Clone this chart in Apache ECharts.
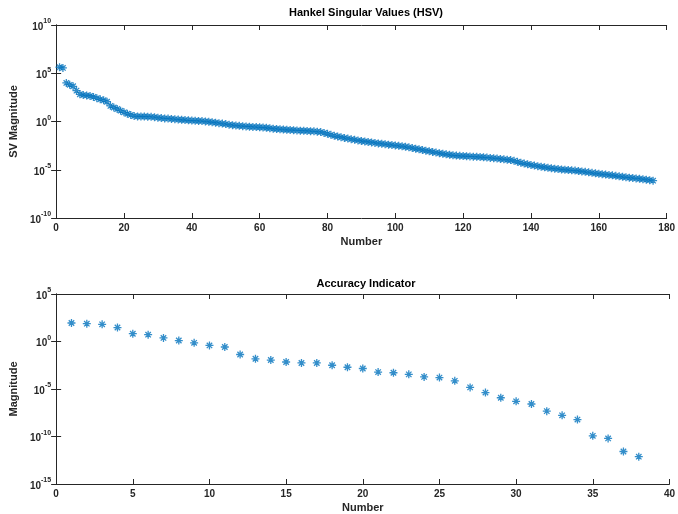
<!DOCTYPE html>
<html>
<head>
<meta charset="utf-8">
<script src="https://cdn.jsdelivr.net/npm/echarts@6/dist/echarts.min.js"></script>
<style>
  html, body { margin: 0; padding: 0; background: #fff; }
  #chart { width: 678px; height: 514px; }
</style>
</head>
<body>
<div id="chart"></div>
<script>
// log10 of each Hankel singular value (state 1..176)
const hsvLog10 = [
  5.62, 5.55, 4.00, 3.80, 3.65, 3.20, 2.82, 2.74, 2.70, 2.64,
  2.55, 2.42, 2.30, 2.20, 2.05, 1.62, 1.45, 1.30, 1.12, 0.95,
  0.80, 0.68, 0.56, 0.53, 0.52, 0.52, 0.50, 0.48, 0.45, 0.40,
  0.35, 0.32, 0.30, 0.27, 0.24, 0.20, 0.18, 0.15, 0.12, 0.10,
  0.08, 0.06, 0.04, 0.01, -0.03, -0.08, -0.12, -0.17, -0.22, -0.27,
  -0.33, -0.38, -0.42, -0.45, -0.48, -0.51, -0.54, -0.56, -0.58, -0.60,
  -0.62, -0.65, -0.70, -0.74, -0.78, -0.80, -0.83, -0.86, -0.88, -0.90,
  -0.93, -0.95, -0.96, -0.98, -1.00, -1.02, -1.05, -1.10, -1.18, -1.28,
  -1.38, -1.48, -1.56, -1.63, -1.70, -1.77, -1.83, -1.90, -1.96, -2.02,
  -2.07, -2.12, -2.17, -2.22, -2.27, -2.31, -2.35, -2.40, -2.44, -2.48,
  -2.52, -2.57, -2.62, -2.68, -2.75, -2.82, -2.88, -2.95, -3.02, -3.08,
  -3.15, -3.22, -3.28, -3.34, -3.40, -3.45, -3.50, -3.53, -3.56, -3.58,
  -3.60, -3.62, -3.64, -3.66, -3.68, -3.71, -3.74, -3.77, -3.80, -3.84,
  -3.88, -3.92, -3.96, -4.00, -4.08, -4.18, -4.28, -4.36, -4.43, -4.50,
  -4.57, -4.63, -4.69, -4.74, -4.80, -4.85, -4.89, -4.93, -4.97, -5.00,
  -5.03, -5.06, -5.09, -5.13, -5.18, -5.22, -5.27, -5.32, -5.37, -5.42,
  -5.46, -5.50, -5.54, -5.58, -5.63, -5.68, -5.73, -5.78, -5.82, -5.86,
  -5.90, -5.94, -5.98, -6.03, -6.08, -6.13
];

// log10 of the accuracy indicator (order 1..38)
const accLog10 = [
  1.95, 1.88, 1.81, 1.47, 0.82, 0.72, 0.38, 0.10, -0.14, -0.41,
  -0.58, -1.37, -1.82, -1.95, -2.16, -2.26, -2.26, -2.50, -2.71, -2.84,
  -3.22, -3.29, -3.46, -3.73, -3.80, -4.14, -4.83, -5.38, -5.92, -6.30,
  -6.58, -7.33, -7.77, -8.22, -9.93, -10.20, -11.58, -12.12
];

const hsvTicksX = { min: 0, max: 180, interval: 20 };
const accTicksX = { min: 0, max: 40, interval: 5 };
const hsvRangeY = [1e-10, 1e10];
const accRangeY = [1e-15, 1e5];

const hsvData = hsvLog10.map((v, i) => [i + 1, Math.pow(10, v)]);
const accData = accLog10.map((v, i) => [i + 1, Math.pow(10, v)]);

const blue = '#0072BD';
const axisGrey = '#262626';
const fontFamily = '"Liberation Sans", Arial, sans-serif';

// asterisk marker like MATLAB's '*'
const star = 'path://M0,5 L10,5 M5,0 L5,10 M1.6,1.6 L8.4,8.4 M1.6,8.4 L8.4,1.6';

function powLabel(v) {
  const e = Math.round(Math.log10(v));
  return '{b|10}{s|' + e + '}';
}

const labelRich = {
  b: { fontSize: 10, fontWeight: 'bold', color: axisGrey, fontFamily, verticalAlign: 'bottom', lineHeight: 14 },
  s: { fontSize: 7, fontWeight: 'bold', color: axisGrey, fontFamily, verticalAlign: 'top', lineHeight: 14, padding: [0, 0, 7, 0] }
};

function xAxes(gridIndex, t) {
  return [
    {
      gridIndex, type: 'value', min: t.min, max: t.max, interval: t.interval,
      name: 'Number', nameLocation: 'middle', nameGap: 18,
      nameTextStyle: { fontSize: 11, fontWeight: 'bold', color: axisGrey, fontFamily },
      axisLine: { lineStyle: { color: axisGrey, width: 1 } },
      axisTick: { inside: true, length: 5, lineStyle: { color: axisGrey } },
      axisLabel: { fontSize: 10, fontWeight: 'bold', color: axisGrey, fontFamily, margin: 5 },
      splitLine: { show: false }
    },
    {
      gridIndex, type: 'value', position: 'top', min: t.min, max: t.max, interval: t.interval,
      axisLine: { lineStyle: { color: axisGrey, width: 1 } },
      axisTick: { inside: true, length: 5, lineStyle: { color: axisGrey } },
      axisLabel: { show: false },
      splitLine: { show: false }
    }
  ];
}

function yAxes(gridIndex, range, name) {
  return [
    {
      gridIndex, type: 'log', logBase: 10, min: range[0], max: range[1], interval: 5,
      name, nameLocation: 'middle', nameGap: 31,
      nameTextStyle: { fontSize: 11, fontWeight: 'bold', color: axisGrey, fontFamily },
      axisLine: { lineStyle: { color: axisGrey, width: 1 } },
      axisTick: { inside: true, length: 5, lineStyle: { color: axisGrey } },
      axisLabel: { formatter: powLabel, rich: labelRich, margin: 5 },
      splitLine: { show: false },
      minorTick: { show: false }
    },
    {
      gridIndex, type: 'log', logBase: 10, position: 'right', min: range[0], max: range[1], interval: 5,
      axisLine: { lineStyle: { color: axisGrey, width: 1 } },
      axisTick: { inside: true, length: 5, lineStyle: { color: axisGrey } },
      axisLabel: { show: false },
      splitLine: { show: false }
    }
  ];
}

const chart = echarts.init(document.getElementById('chart'), null, { renderer: 'canvas' });

chart.setOption({
  animation: false,
  backgroundColor: '#fff',
  title: [
    {
      text: 'Hankel Singular Values (HSV)', left: 361, top: 2, textAlign: 'center',
      textStyle: { fontSize: 11, fontWeight: 'bold', color: '#000', fontFamily }
    },
    {
      text: 'Accuracy Indicator', left: 361, top: 273, textAlign: 'center',
      textStyle: { fontSize: 11, fontWeight: 'bold', color: '#000', fontFamily }
    }
  ],
  grid: [
    { left: 52, right: 8, top: 25, height: 193 },
    { left: 52, right: 8, top: 294, height: 194 }
  ],
  xAxis: [...xAxes(0, hsvTicksX), ...xAxes(1, accTicksX)],
  yAxis: [...yAxes(0, hsvRangeY, 'SV Magnitude'), ...yAxes(1, accRangeY, 'Magnitude')],
  series: [
    {
      name: 'HSV', type: 'scatter', xAxisIndex: 0, yAxisIndex: 0,
      data: hsvData, symbol: star, symbolSize: 8,
      itemStyle: { color: 'none', borderColor: blue, borderWidth: 1.3 }
    },
    {
      name: 'Accuracy', type: 'scatter', xAxisIndex: 2, yAxisIndex: 2,
      data: accData, symbol: star, symbolSize: 8,
      itemStyle: { color: 'none', borderColor: blue, borderWidth: 1.3 }
    }
  ]
});
</script>
</body>
</html>
